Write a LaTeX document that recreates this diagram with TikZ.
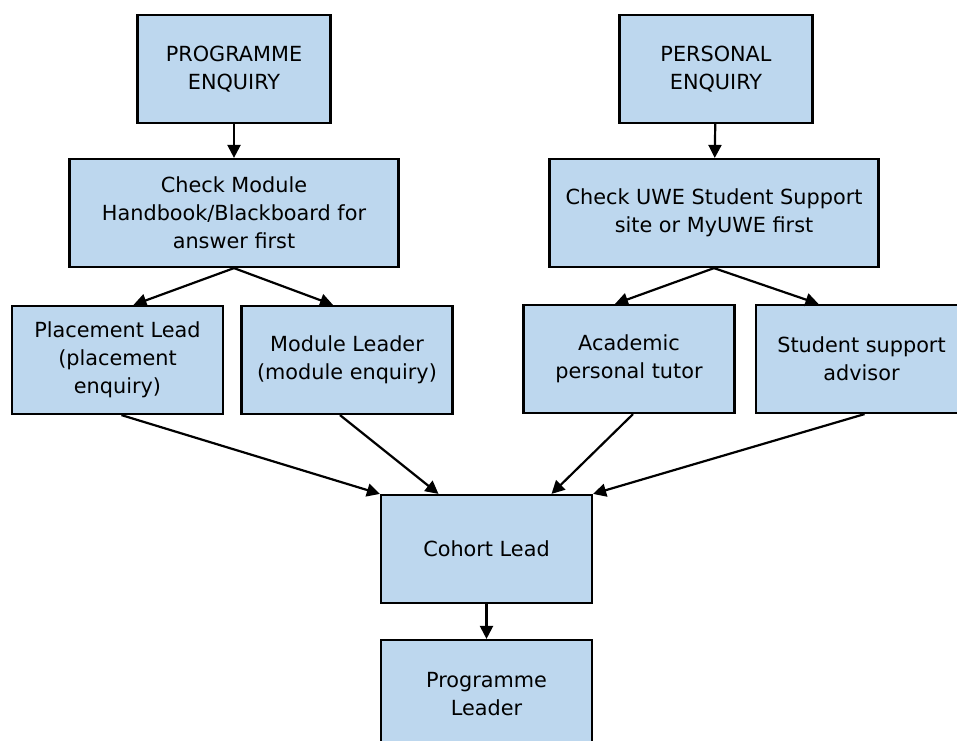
\documentclass[tikz,border=0pt]{standalone}
\usepackage{fontspec}
\setmainfont{DejaVu Sans}
\usetikzlibrary{arrows.meta,calc}
\definecolor{boxfill}{HTML}{BDD7EE}
\begin{document}
\begin{tikzpicture}[x=1pt,y=-1pt,
  box/.style={draw=black,line width=2.2pt,fill=boxfill,minimum width=211pt,minimum height=108pt,align=center,font=\fontsize{20.8}{28}\selectfont,inner sep=0pt},
  arr/.style={line width=2.2pt,-{Triangle[length=13pt,width=13pt]}}]
\useasboundingbox (0,0) rectangle (957,740);
\clip (0,0) rectangle (957,740);
\fill[white] (0,0) rectangle (957,740);
\node[box,minimum width=193pt] (pe) at (234,69) {PROGRAMME\\ENQUIRY};
\node[box,minimum width=193pt] (pse) at (716,69) {PERSONAL\\ENQUIRY};
\node[box,minimum width=329pt] (cm) at (234,213) {Check Module\\Handbook/Blackboard for\\answer first};
\node[box,minimum width=329pt] (cu) at (714,213) {Check UWE Student Support\\site or MyUWE first};
\node[box] (pl) at (117.5,360) {Placement Lead\\(placement\\enquiry)};
\node[box] (ml) at (347,360) {Module Leader\\(module enquiry)};
\node[box] (ap) at (629,359) {Academic\\personal tutor};
\node[box] (ss) at (861.5,359) {Student support\\advisor};
\node[box] (co) at (486.5,549) {Cohort Lead};
\node[box] (pg) at (486.5,694) {Programme\\Leader};
\draw[arr] (pe) -- (cm);
\draw[arr] (pse) -- (cu);
\draw[arr] (cm.south) -- ($(pl.north)+(16,0)$);
\draw[arr] (cm.south) -- ($(ml.north)+(-14,0)$);
\draw[arr] (cu.south) -- ($(ap.north)+(-14,0)$);
\draw[arr] (cu.south) -- ($(ss.north)+(-43,0)$);
\draw[arr] ($(pl.south)+(4,0)$) -- (co.north west);
\draw[arr] ($(ml.south)+(-7,0)$) -- ($(co.north)+(-48,0)$);
\draw[arr] ($(ap.south)+(4,0)$) -- ($(co.north)+(65,0)$);
\draw[arr] ($(ss.south)+(3,0)$) -- (co.north east);
\draw[arr] (co) -- (pg);
\end{tikzpicture}
\end{document}
